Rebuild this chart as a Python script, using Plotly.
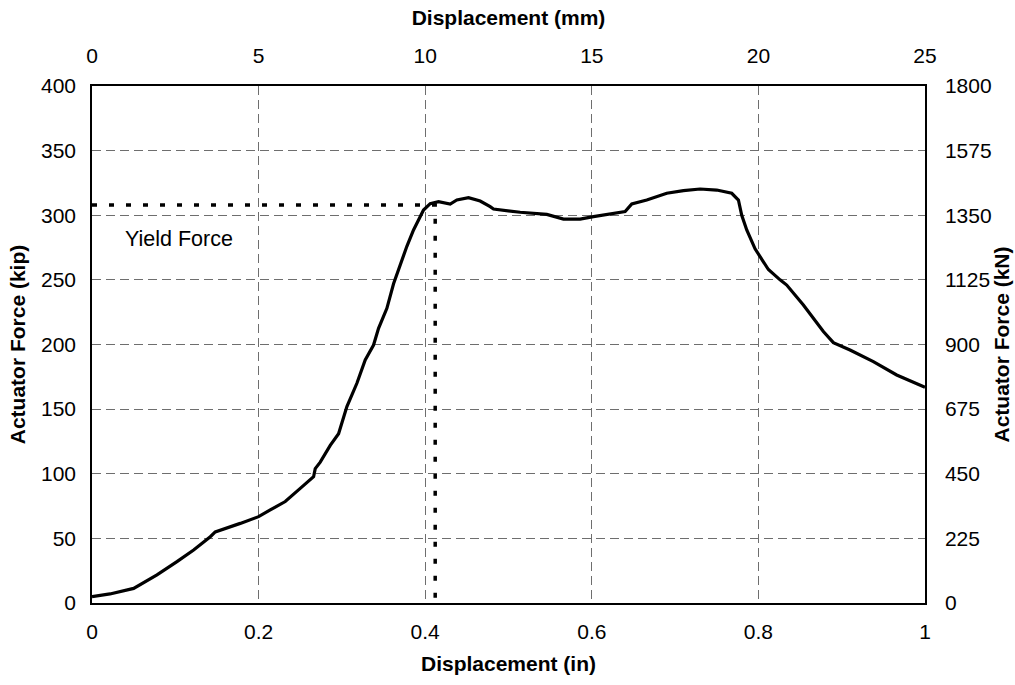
import plotly.graph_objects as go

# Load-displacement record (displacement in inches, actuator force in kip)
disp_in = [0.0, 0.0216, 0.05, 0.078, 0.102, 0.122, 0.142, 0.148, 0.178, 0.2, 0.214,
           0.232, 0.25, 0.266, 0.268, 0.274, 0.286, 0.296, 0.306, 0.318, 0.328, 0.338,
           0.344, 0.354, 0.362, 0.37, 0.378, 0.386, 0.398, 0.406, 0.416, 0.43, 0.438,
           0.452, 0.466, 0.478, 0.482, 0.514, 0.546, 0.566, 0.586, 0.602, 0.626, 0.64,
           0.648, 0.666, 0.69, 0.71, 0.73, 0.75, 0.768, 0.776, 0.78, 0.786, 0.796,
           0.812, 0.826, 0.834, 0.854, 0.878, 0.89, 0.91, 0.938, 0.966, 1.0]
force_kip = [4.9, 7.0, 11.3, 21.7, 32.0, 41.0, 51.3, 55.0, 61.6, 66.8, 72.0,
             78.5, 88.7, 97.7, 104.0, 109.0, 122.0, 131.0, 152.0, 170.0, 188.0, 199.6,
             212.5, 228.0, 247.0, 262.0, 276.0, 288.6, 304.0, 309.0, 310.5, 308.7, 311.8,
             313.6, 311.0, 306.6, 304.8, 302.3, 300.7, 297.0, 297.0, 298.9, 301.0, 302.8,
             308.7, 311.8, 317.0, 319.0, 320.3, 319.5, 317.0, 311.8, 300.0, 288.6, 274.0,
             258.0, 250.0, 246.0, 230.6, 210.0, 201.4, 195.7, 186.7, 176.4, 166.9]

# Yield point
yield_disp = 0.412
yield_force = 308.0

# Axis ranges and tick spacing
x_in_range = [0, 1]
x_mm_range = [0, 25]
y_kip_range = [0, 400]
y_kn_range = [0, 1800]

FONT = "Liberation Sans, Arial, sans-serif"
GRID = "#6e6e6e"
TICK_SIZE = 21
TITLE_SIZE = 21

fig = go.Figure()

fig.add_trace(go.Scatter(
    x=[0, yield_disp, yield_disp], y=[yield_force, yield_force, 0],
    mode="lines", line=dict(color="black", width=3.5, dash="5px,12px"),
    hoverinfo="skip", showlegend=False))

fig.add_trace(go.Scatter(
    x=disp_in, y=force_kip, mode="lines",
    line=dict(color="black", width=3.2), showlegend=False))

# Invisible trace to activate the secondary (mm / kN) axes
fig.add_trace(go.Scatter(x=[None], y=[None], xaxis="x2", yaxis="y2",
                         showlegend=False, hoverinfo="skip"))

fig.add_annotation(x=0.037, y=282, xref="x", yref="y", text="Yield Force",
                   showarrow=False, xanchor="left", yanchor="middle",
                   font=dict(family=FONT, size=21.5, color="black"))

axis_common = dict(showline=True, linecolor="black", linewidth=1.5,
                   ticks="", zeroline=False, automargin=False,
                   tickfont=dict(family=FONT, size=TICK_SIZE, color="black"))

fig.update_layout(
    width=1015, height=685,
    margin=dict(l=92, r=90, t=86, b=82),
    paper_bgcolor="white", plot_bgcolor="white",
    xaxis=dict(range=x_in_range, dtick=0.2, tick0=0, showgrid=True,
               gridcolor=GRID, gridwidth=1, griddash="9px,5px",
               title=dict(text="<b>Displacement (in)</b>", standoff=14,
                          font=dict(family=FONT, size=TITLE_SIZE, color="black")),
               ticklabelstandoff=9,
               **axis_common),
    xaxis2=dict(range=x_mm_range, dtick=5, tick0=0, overlaying="x", side="top",
                showgrid=False,
                title=dict(text="<b>Displacement (mm)</b>", standoff=12,
                           font=dict(family=FONT, size=TITLE_SIZE, color="black")),
                ticklabelstandoff=13,
                **axis_common),
    yaxis=dict(range=y_kip_range, dtick=50, tick0=0, showgrid=True,
               gridcolor=GRID, gridwidth=1, griddash="9px,5px",
               title=dict(text="<b>Actuator Force (kip)</b>", standoff=10,
                          font=dict(family=FONT, size=TITLE_SIZE, color="black")),
               ticklabelstandoff=10,
               **axis_common),
    yaxis2=dict(range=y_kn_range, dtick=225, tick0=0, overlaying="y", side="right",
                showgrid=False,
                title=dict(text="<b>Actuator Force (kN)</b>", standoff=3,
                           font=dict(family=FONT, size=TITLE_SIZE, color="black")),
                ticklabelstandoff=14,
                **axis_common),
)

fig.write_html("out.html")
